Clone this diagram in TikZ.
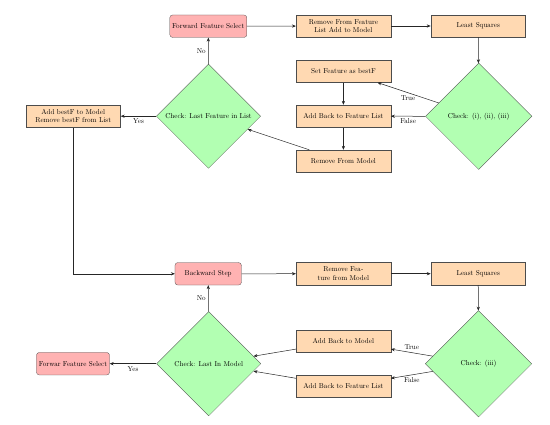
\documentclass[tikz,border=0pt]{standalone}
\usetikzlibrary{shapes.geometric,arrows.meta}
\begin{document}
\begin{tikzpicture}[x=1.4pt,y=-1.4pt,
  startstop/.style={rectangle, rounded corners, minimum width=93pt, minimum height=31.5pt, draw=black!70, fill=red!30, align=center},
  process/.style={rectangle, minimum width=132.6pt, minimum height=31.5pt, draw=black!70, fill=orange!30, align=center},
  decision/.style={diamond, aspect=1, inner sep=1pt, draw=black!70, fill=green!30, align=center},
  arrow/.style={line width=0.7pt, draw=black!85, -{Stealth[length=5.5pt,width=4.5pt]}}]
\useasboundingbox (0,0) rectangle (550,425);
% top part
\node[startstop] (ffs) at (208.3,26.2) {Forward Feature Select};
\node[process] (rem1) at (343.4,26) {Remove From Feature\\List Add to Model};
\node[process] (ls1) at (478.2,26) {Least Squares};
\node[decision, minimum width=149pt, minimum height=149pt] (chk1) at (478.7,116.3) {Check: (i), (ii), (iii)};
\node[process] (setF) at (343.4,71.2) {Set Feature as bestF};
\node[process] (addB1) at (343.4,116.2) {Add Back to Feature List};
\node[process] (remM) at (343.4,161.2) {Remove From Model};
\node[decision, minimum width=146pt, minimum height=146pt] (chkL) at (208.5,116.2) {Check: Last Feature in List};
\node[process] (addBest) at (73.2,116.2) {Add bestF to Model\\Remove bestF from List};
% bottom part
\node[startstop] (bs) at (208.2,273.8) {Backward Step};
\node[process] (rem2) at (343.4,273.7) {Remove Fea-\\ture from Model};
\node[process] (ls2) at (478.2,273.7) {Least Squares};
\node[decision, minimum width=149pt, minimum height=149pt] (chk2) at (478.5,363.8) {Check: (iii)};
\node[process] (addM) at (343.4,341.2) {Add Back to Model};
\node[process] (addB2) at (343.4,386.2) {Add Back to Feature List};
\node[decision, minimum width=146pt, minimum height=146pt] (chkLM) at (208.7,363.7) {Check: Last In Model};
\node[startstop] (ffs2) at (73,363.7) {Forwar Feature Select};
% connectors top
\draw[arrow] (ffs) -- (rem1);
\draw[arrow] (rem1) -- (ls1);
\draw[arrow] (ls1) -- (chk1);
\draw[arrow] (chk1) -- node[below] {True} (setF);
\draw[arrow] (chk1) -- node[below] {False} (addB1);
\draw[arrow] (setF) -- (addB1);
\draw[arrow] (addB1) -- (remM);
\draw[arrow] (remM) -- (chkL);
\draw[arrow] (chkL) -- node[left] {No} (ffs);
\draw[arrow] (chkL) -- node[below] {Yes} (addBest);
\draw[arrow] (addBest.south) |- (bs.west);
% connectors bottom
\draw[arrow] (bs) -- (rem2);
\draw[arrow] (rem2) -- (ls2);
\draw[arrow] (ls2) -- (chk2);
\draw[arrow] (chk2) -- node[above] {True} (addM);
\draw[arrow] (chk2) -- node[below] {False} (addB2);
\draw[arrow] (addM) -- (chkLM);
\draw[arrow] (addB2) -- (chkLM);
\draw[arrow] (chkLM) -- node[left] {No} (bs);
\draw[arrow] (chkLM) -- node[below] {Yes} (ffs2);
\end{tikzpicture}
\end{document}
